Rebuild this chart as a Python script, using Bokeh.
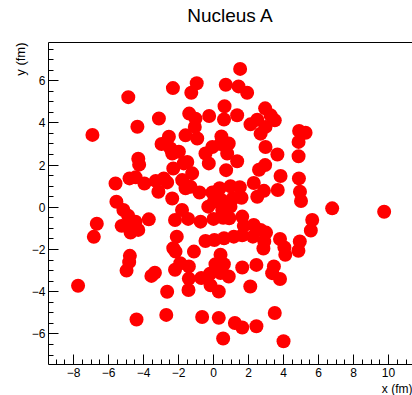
import math
from bokeh.plotting import figure
from bokeh.models import (LinearAxis, SingleIntervalTicker, FixedTicker,
                          ColumnDataSource, Range1d, Title)
from bokeh.embed import file_html
from bokeh.resources import INLINE

# ---- data (x, y positions in fm) ----
x_fm = [
    -4.87, -2.32, -0.96, -1.27, 1.52, 0.70, 1.43, 1.92,
    -3.12, -4.35, -1.39, -1.03, -0.25, 0.63, 0.60, 1.35, 2.95, 3.26, 3.50,
    2.11, 2.50, 4.89, 5.26, -6.92, 2.97, -1.07,
    -2.97, -2.55, -2.46, -1.98, -1.60, -0.93, -0.46, -0.07, 0.45, 0.40, 0.87,
    0.78, 1.35, -0.27, -1.50, -2.30, 0.72, -4.30, -4.25,
    2.69, 2.97, 3.65, 4.86, 4.86, 4.88, 4.94, 5.00, 2.95, 2.60, 3.83, 2.30,
    3.67, 2.88, 2.50, -2.36, -1.70,
    -5.60, -4.80, -4.45, -3.95, -3.30, -3.15, -2.84, -2.65, -2.36, -1.79,
    -1.22, -1.31, -1.60, -0.80, -0.07, 0.35, 0.97, 1.50, 1.60, 1.10, 0.45,
    0.02, -0.30, 0.50, 0.97,
    -5.55, -5.15, -4.88, -6.67, -6.84, -5.25, -4.85, -4.46, -4.74, -4.30,
    -3.70,
    -2.20, -1.80, -1.45, -0.74, 0.00, 0.55, 0.90, 1.64, 1.73, 2.30, 2.69,
    3.00, 2.90, 2.25, 1.64, 1.16, 0.60, 0.05, -0.46, -2.10, -2.30, -1.12,
    3.80, 4.05, 4.10, 2.85,
    6.78, 9.75, 5.64, 5.56, 4.93, 4.85,
    -4.78, -4.82, -4.97, -7.74, -3.55, -3.35, -2.65, -4.40, -2.70, -2.20,
    -1.90, -2.17, -1.41, -1.41, -1.43, -0.70, -0.20, -0.17, 0.11, 0.40,
    0.30, 0.87, 0.59, 0.40, -0.65, 0.30, 0.55, 1.22, 1.64, 2.45, 3.50,
    4.00, 2.10, 1.64, 2.45, 3.45, 3.35, 3.80,
]
y_fm = [
    5.22, 5.65, 5.88, 5.43, 6.56, 5.81, 5.73, 5.43,
    4.21, 3.82, 4.44, 4.20, 4.33, 4.79, 4.16, 4.36, 4.69, 4.36, 4.12,
    3.93, 4.15, 3.62, 3.53, 3.43, 3.81, 3.81,
    3.00, 3.34, 2.79, 2.63, 3.41, 3.26, 2.55, 2.86, 3.36, 3.00, 3.02,
    2.55, 2.18, 2.08, 2.15, 1.84, 1.76, 2.30, 2.02,
    3.49, 2.86, 2.50, 3.10, 2.42, 1.37, 0.74, 0.30, 2.00, 1.78, 1.48, 1.15,
    0.82, 0.78, 0.50, 2.55, 2.08,
    1.13, 1.37, 1.42, 1.13, 1.25, 0.74, 1.37, 1.18, 0.42, 1.29,
    1.61, 0.97, 0.90, 0.70, 0.70, 0.90, 1.00, 0.95, 0.45, 0.42, 0.35,
    0.26, 0.03, -0.13, 0.03,
    0.26, -0.13, -0.40, -0.78, -1.40, -0.88, -0.76, -0.68, -1.20, -1.07,
    -0.57,
    -0.60, -0.13, -0.55, -0.68, -0.55, -0.50, -0.52, -0.44, -0.88, -0.84,
    -1.07, -1.20, -1.62, -1.39, -1.33, -1.39, -1.47, -1.55, -1.60, -1.39,
    -1.94, -2.10, -1.50, -1.90, -2.25, -1.95,
    -0.05, -0.21, -0.60, -1.10, -1.62, -2.06,
    -2.30, -2.60, -3.00, -3.72, -3.25, -3.10, -4.00, -5.32, -5.10, -2.96,
    -2.65, -2.10, -2.80, -3.38, -3.92, -3.35, -3.15, -3.70, -2.70, -3.12,
    -3.99, -3.28, -2.70, -2.25, -5.20, -5.24, -6.22, -5.48, -5.70, -5.64,
    -5.01, -6.35, -3.75, -2.85, -2.73, -2.80, -3.12, -3.40,
]

title_text = "Nucleus A"
x_title = "x (fm)"
y_title = "y (fm)"

X0, X1 = -9.43, 11.37
Y0, Y1 = -7.45, 7.81

FONT = "Liberation Sans"

p = figure(width=412, height=395, output_backend="svg", toolbar_location=None,
           x_range=Range1d(X0, X1), y_range=Range1d(Y0, Y1),
           min_border_left=48, min_border_right=0, min_border_top=42,
           min_border_bottom=30)
p.background_fill_color = "white"
p.border_fill_color = "white"
p.outline_line_color = None
p.grid.visible = False

src = ColumnDataSource(dict(x=x_fm, y=y_fm))
p.scatter("x", "y", source=src, size=14, fill_color="#ff0000",
          line_color=None, marker="circle")

for ax in (p.xaxis[0], p.yaxis[0]):
    ax.ticker = SingleIntervalTicker(interval=2, num_minor_ticks=4)
    ax.major_tick_in = 10
    ax.major_tick_out = 0
    ax.minor_tick_in = 5
    ax.minor_tick_out = 0
    ax.axis_line_color = "black"
    ax.major_tick_line_color = "black"
    ax.minor_tick_line_color = "black"
    ax.major_label_text_font = FONT
    ax.major_label_text_font_size = "12px"
    ax.major_label_text_color = "black"
    ax.major_label_standoff = 3
    ax.axis_label = None

# top frame line, carrying the chart title as its label
top = LinearAxis(ticker=FixedTicker(ticks=[]), major_tick_in=0, major_tick_out=0,
                 minor_tick_in=0, minor_tick_out=0, axis_line_color="black",
                 major_label_standoff=0, major_label_text_font_size="0px",
                 axis_label=title_text, axis_label_standoff=17,
                 axis_label_text_font=FONT, axis_label_text_font_size="19px",
                 axis_label_text_font_style="normal",
                 axis_label_text_color="black")
p.add_layout(top, "above")

p.add_layout(Title(text=y_title, align="right", text_font=FONT,
                   text_font_size="13px", text_font_style="normal",
                   text_color="black", standoff=2), "left")
p.add_layout(Title(text=x_title, align="right", text_font=FONT,
                   text_font_size="12px", text_font_style="normal",
                   text_color="black", standoff=0), "below")

open("out.html", "w").write(file_html(p, INLINE))
